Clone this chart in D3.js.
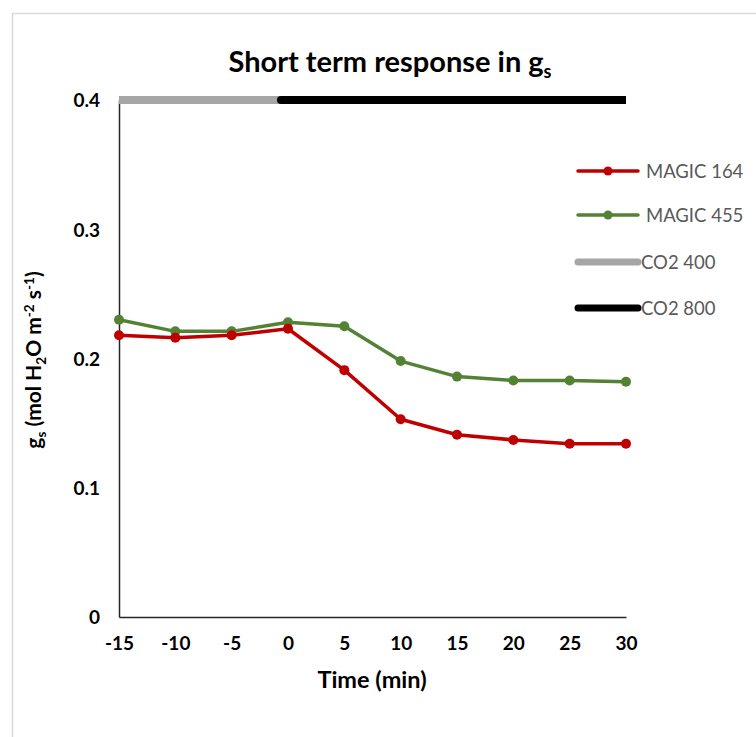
<!DOCTYPE html>
<html>
<head>
<meta charset="utf-8">
<script src="https://cdn.jsdelivr.net/npm/d3@7"></script>
<style>
  html, body { margin: 0; padding: 0; background: #fff; }
  svg { display: block; font-family: Lato, "Open Sans", "Liberation Sans", sans-serif; }
</style>
</head>
<body>
<svg id="chart" width="756" height="737"></svg>
<script>
// Time points (min) relative to the CO2 step
const times = [-15, -10, -5, 0, 5, 10, 15, 20, 25, 30];
// Stomatal conductance gs (mol H2O m-2 s-1)
const magic164 = [0.218, 0.216, 0.218, 0.223, 0.191, 0.153, 0.141, 0.137, 0.134, 0.134];
const magic455 = [0.230, 0.221, 0.221, 0.228, 0.225, 0.198, 0.186, 0.183, 0.183, 0.182];
// CO2 treatment periods drawn along the top of the plot
const co2Level = 0.4;
const co2_400 = [-15, 0];
const co2_800 = [0, 30];
const xTicks = [-15, -10, -5, 0, 5, 10, 15, 20, 25, 30];
const yTicks = [0, 0.1, 0.2, 0.3, 0.4];

const svg = d3.select("#chart");

// frame
svg.append("rect")
  .attr("x", 12.5).attr("y", 13.5)
  .attr("width", 800).attr("height", 800)
  .attr("fill", "#fff").attr("stroke", "#d9d9d9").attr("stroke-width", 1.5);

const x = d3.scaleLinear().domain([-15, 30]).range([119, 626]);
const y = d3.scaleLinear().domain([0, 0.4]).range([617, 100]);

// title
const title = svg.append("text")
  .attr("x", 390).attr("y", 72)
  .attr("text-anchor", "middle")
  .attr("font-size", 29).attr("font-weight", "bold").attr("fill", "#000");
title.append("tspan").text("Short term response in g");
title.append("tspan").attr("dy", 6).attr("font-size", 18).text("s");

// axes
const xAxis = svg.append("g")
  .attr("transform", `translate(0,${y(0)})`)
  .call(d3.axisBottom(x).tickValues(xTicks).tickSize(0).tickPadding(20).tickFormat(d => String(d)));
const yAxis = svg.append("g")
  .attr("transform", `translate(${x(-15)},0)`)
  .call(d3.axisLeft(y).tickValues(yTicks).tickSize(0).tickPadding(19)
    .tickFormat(d => d === 0 ? "0" : d3.format(".1f")(d)));
[xAxis, yAxis].forEach(g => {
  g.select(".domain").attr("stroke", "#262626").attr("stroke-width", 1.5);
  g.selectAll(".tick text")
    .attr("font-family", "Lato, 'Open Sans', sans-serif")
    .attr("font-size", 19).attr("font-weight", "bold").attr("fill", "#000");
});
yAxis.selectAll(".tick text").attr("dy", "0.36em");

// axis titles
svg.append("text")
  .attr("x", 372).attr("y", 688)
  .attr("text-anchor", "middle")
  .attr("font-size", 23.5).attr("font-weight", "bold").attr("fill", "#000")
  .text("Time (min)");

const yt = svg.append("text")
  .attr("transform", `translate(41,${360}) rotate(-90)`)
  .attr("text-anchor", "middle")
  .attr("font-size", 21).attr("font-weight", "bold").attr("fill", "#000");
yt.append("tspan").text("g");
yt.append("tspan").attr("dy", 5).attr("font-size", 13.5).text("s");
yt.append("tspan").attr("dy", -5).text(" (mol H");
yt.append("tspan").attr("dy", 5).attr("font-size", 13.5).text("2");
yt.append("tspan").attr("dy", -5).text("O m");
yt.append("tspan").attr("dy", -7).attr("font-size", 13.5).text("-2");
yt.append("tspan").attr("dy", 7).text(" s");
yt.append("tspan").attr("dy", -7).attr("font-size", 13.5).text("-1");
yt.append("tspan").attr("dy", 7).text(")");

// CO2 periods
const co2Line = d3.line().x(d => x(d)).y(() => y(co2Level));
svg.append("path").datum(co2_400)
  .attr("d", co2Line).attr("fill", "none")
  .attr("stroke", "#a6a6a6").attr("stroke-width", 8).attr("stroke-linecap", "butt");
svg.append("path").datum(co2_800)
  .attr("d", co2Line).attr("fill", "none")
  .attr("stroke", "#000").attr("stroke-width", 8).attr("stroke-linecap", "butt");
// rounded leading end of the 800 period
const capX = x(co2_800[0]) - 7;
svg.append("rect").attr("x", capX).attr("y", y(co2Level) - 4).attr("width", 8).attr("height", 8).attr("fill", "#000");
svg.append("circle").attr("cx", capX).attr("cy", y(co2Level)).attr("r", 4).attr("fill", "#000");

// series
const series = [
  { name: "MAGIC 164", values: magic164, color: "#c00000" },
  { name: "MAGIC 455", values: magic455, color: "#548235" }
];
const line = d3.line().x((d, i) => x(times[i])).y(d => y(d));
// green drawn first so red sits on top where they overlap
[series[1], series[0]].forEach(s => {
  svg.append("path").datum(s.values)
    .attr("d", line).attr("fill", "none")
    .attr("stroke", s.color).attr("stroke-width", 3.5).attr("stroke-linejoin", "round");
  svg.append("g").selectAll("circle").data(s.values).join("circle")
    .attr("cx", (d, i) => x(times[i])).attr("cy", d => y(d))
    .attr("r", 5).attr("fill", s.color);
});

// legend
const legendItems = [
  { name: "MAGIC 164", color: "#c00000", width: 3.5, marker: true, y: 171, tx: 646 },
  { name: "MAGIC 455", color: "#548235", width: 3.5, marker: true, y: 215, tx: 646 },
  { name: "CO2 400", color: "#a6a6a6", width: 7, marker: false, y: 262, tx: 641 },
  { name: "CO2 800", color: "#000", width: 7, marker: false, y: 308, tx: 641 }
];
const lg = svg.append("g").selectAll("g").data(legendItems).join("g");
lg.append("line")
  .attr("x1", 578).attr("x2", 638)
  .attr("y1", d => d.y).attr("y2", d => d.y)
  .attr("stroke", d => d.color).attr("stroke-width", d => d.width).attr("stroke-linecap", "round");
lg.filter(d => d.marker).append("circle")
  .attr("cx", 608).attr("cy", d => d.y).attr("r", 4.5).attr("fill", d => d.color);
lg.append("text")
  .attr("x", d => d.tx).attr("y", d => d.y).attr("dy", "0.36em")
  .attr("font-size", 18.5).attr("fill", "#595959")
  .text(d => d.name);
</script>
</body>
</html>
